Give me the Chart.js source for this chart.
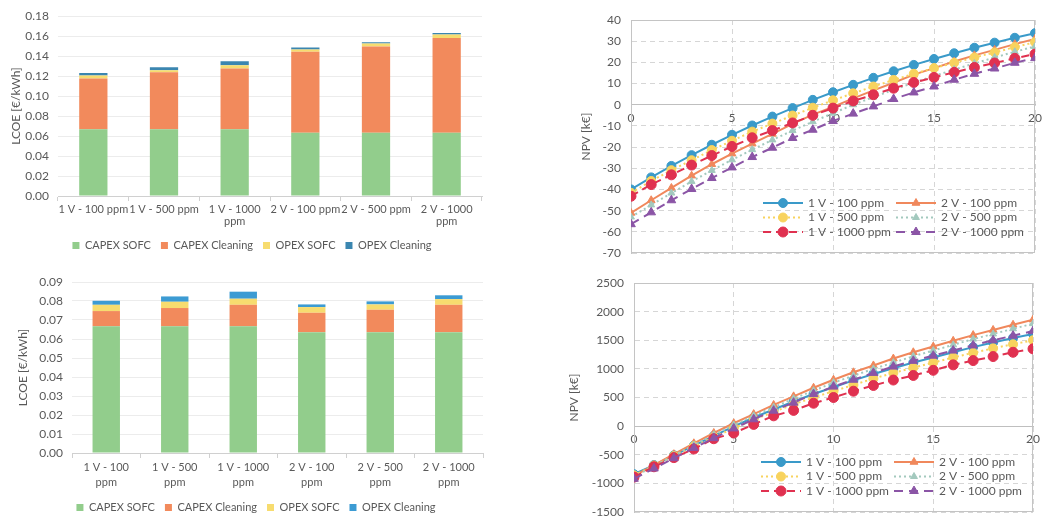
<!DOCTYPE html>
<html>
<head>
<meta charset="utf-8">
<script src="https://cdn.jsdelivr.net/npm/chart.js@4"></script>
<style>
  body { margin: 0; background: #fff; }
  #wrap { position: relative; width: 1042px; height: 518px; background: #fff; overflow: hidden; }
  .box { position: absolute; }
</style>
</head>
<body>
<div id="wrap">
  <div class="box" style="left:0;top:0;width:500px;height:261px"><canvas id="lcoe_top"></canvas></div>
  <div class="box" style="left:0;top:260px;width:500px;height:263px"><canvas id="lcoe_bot"></canvas></div>
  <div class="box" style="left:560px;top:0;width:482px;height:260px"><canvas id="npv_top"></canvas></div>
  <div class="box" style="left:560px;top:260px;width:482px;height:258px"><canvas id="npv_bot"></canvas></div>
</div>
<script>
// categories
const topCats = ['1 V - 100 ppm', '1 V - 500 ppm', ['1 V - 1000', 'ppm'], '2 V - 100 ppm', '2 V - 500 ppm', ['2 V - 1000', 'ppm']];
const botCats = [['1 V - 100', 'ppm'], ['1 V - 500', 'ppm'], ['1 V - 1000', 'ppm'], ['2 V - 100', 'ppm'], ['2 V - 500', 'ppm'], ['2 V - 1000', 'ppm']];
const costNames = ['CAPEX SOFC', 'CAPEX Cleaning', 'OPEX SOFC', 'OPEX Cleaning'];

// LCOE, upper chart
const topCapexSofc  = [0.0667, 0.0667, 0.0667, 0.0633, 0.0633, 0.0633];
const topCapexClean = [0.0510, 0.0573, 0.0610, 0.0810, 0.0864, 0.0950];
const topOpexSofc   = [0.0030, 0.0020, 0.0033, 0.0024, 0.0030, 0.0034];
const topOpexClean  = [0.0025, 0.0030, 0.0040, 0.0020, 0.0013, 0.0016];

// LCOE, lower chart
const botCapexSofc  = [0.0667, 0.0667, 0.0667, 0.0636, 0.0636, 0.0636];
const botCapexClean = [0.0080, 0.0096, 0.0113, 0.0102, 0.0118, 0.0144];
const botOpexSofc   = [0.0033, 0.0033, 0.0032, 0.0030, 0.0028, 0.0030];
const botOpexClean  = [0.0021, 0.0028, 0.0037, 0.0014, 0.0016, 0.0020];

// NPV, years
const years = [0, 1, 2, 3, 4, 5, 6, 7, 8, 9, 10, 11, 12, 13, 14, 15, 16, 17, 18, 19, 20];
const seriesNames = ['1 V - 100 ppm', '1 V - 500 ppm', '1 V - 1000 ppm', '2 V - 100 ppm', '2 V - 500 ppm', '2 V - 1000 ppm'];

// NPV upper chart [k€]
const npvTop1V100  = [-40, -34.3, -28.9, -23.8, -18.9, -14.2, -9.8, -5.6, -1.6, 2.3, 5.9, 9.4, 12.7, 15.8, 18.8, 21.6, 24.3, 26.9, 29.3, 31.6, 33.8];
const npvTop1V500  = [-41.6, -36, -30.9, -26.2, -21.4, -17, -12.7, -8.9, -5.1, -1.4, 2.1, 5.4, 8.6, 11.7, 14.6, 17.3, 19.8, 22.3, 24.7, 27.2, 29.5];
const npvTop1V1000 = [-43.2, -37.7, -33.1, -28.5, -24, -19.7, -15.6, -12.2, -8.6, -5, -1.6, 1.8, 4.7, 7.8, 10.5, 12.9, 15.3, 17.6, 19.7, 21.9, 23.9];
const npvTop2V100  = [-51.1, -45.1, -39.3, -33.5, -28.1, -23.1, -18.4, -13.8, -9, -4.7, -1, 3, 6.8, 10.4, 14.2, 17.3, 20.4, 23.3, 25.9, 28.6, 31.1];
const npvTop2V500  = [-53, -47.3, -41.7, -36.2, -31, -26, -21.2, -16.6, -12.2, -8, -4, 0, 3.6, 7.1, 10.4, 13.6, 16.6, 19.5, 22.3, 25, 27.5];
const npvTop2V1000 = [-56.4, -50.8, -45.1, -39.8, -34.6, -29.6, -24.7, -20.3, -15.7, -11.8, -7.7, -4.2, -0.8, 2.7, 5.8, 8.6, 11.8, 14.6, 17.1, 19.8, 22];

// NPV lower chart [k€]
const npvBot1V100  = [-840, -680, -510, -340, -170, -5, 150, 290, 430, 560, 680, 800, 910, 1010, 1110, 1200, 1290, 1380, 1460, 1540, 1610];
const npvBot1V500  = [-860, -690, -520, -350, -190, -40, 110, 250, 380, 500, 610, 720, 830, 930, 1020, 1110, 1200, 1280, 1360, 1430, 1500];
const npvBot1V1000 = [-890, -710, -550, -400, -220, -120, 30, 180, 275, 400, 500, 610, 710, 805, 885, 975, 1070, 1145, 1215, 1290, 1350];
const npvBot2V100  = [-870, -680, -490, -300, -120, 50, 210, 370, 520, 670, 810, 940, 1060, 1180, 1290, 1390, 1490, 1590, 1680, 1770, 1860];
const npvBot2V500  = [-880, -700, -510, -330, -150, 20, 180, 330, 480, 620, 760, 880, 1000, 1110, 1220, 1320, 1420, 1520, 1610, 1700, 1790];
const npvBot2V1000 = [-920, -740, -560, -380, -210, -40, 120, 270, 410, 560, 690, 810, 930, 1040, 1140, 1230, 1320, 1410, 1500, 1580, 1660];

const txt = '#595959';
Chart.defaults.font.family = 'Lato, "Open Sans", sans-serif';
Chart.defaults.color = txt;
Chart.defaults.animation = false;

// bar charts
function lcoeChart(id, cats, sets, blue, yMax, yStep, pad, yWidth, xHeight, lineH, titlePad) {
  const colors = ['#92cd8c', '#f28a5c', '#f7dc6f', blue];
  return new Chart(document.getElementById(id), {
    type: 'bar',
    data: {
      labels: cats,
      datasets: sets.map((d, i) => ({
        label: costNames[i],
        data: d,
        backgroundColor: colors[i],
        borderWidth: 0,
        categoryPercentage: 1,
        barPercentage: 0.4
      }))
    },
    options: {
      responsive: true,
      maintainAspectRatio: false,
      layout: { padding: pad },
      plugins: {
        tooltip: { enabled: false },
        legend: {
          position: 'bottom',
          labels: { boxWidth: 7, boxHeight: 7, padding: 10, font: { size: 11 } }
        }
      },
      scales: {
        x: {
          stacked: true,
          afterFit: (s) => { s.height = xHeight; s.paddingLeft = 0; s.paddingRight = 0; },
          grid: { display: true, drawOnChartArea: false, offset: true, tickLength: 5, color: '#d0d0d0' },
          border: { color: '#d0d0d0' },
          ticks: { maxRotation: 0, autoSkip: false, font: { size: 11, lineHeight: lineH }, padding: 2 }
        },
        y: {
          stacked: true,
          min: 0, max: yMax,
          afterFit: (s) => { s.width = yWidth; },
          title: { display: true, text: 'LCOE [€/kWh]', font: { size: 12 }, padding: { top: titlePad, bottom: 0 } },
          grid: { color: '#ececec', drawTicks: false, tickLength: 0 },
          border: { display: false },
          ticks: { stepSize: yStep, padding: 9, font: { size: 12 }, callback: (v) => v.toFixed(2) }
        }
      }
    }
  });
}

lcoeChart('lcoe_top', topCats, [topCapexSofc, topCapexClean, topOpexSofc, topOpexClean], '#3b86b0', 0.18, 0.02,
  { left: 22, top: 15, right: 18, bottom: 0 }, 36, 34, 1.1, -13);
lcoeChart('lcoe_bot', botCats, [botCapexSofc, botCapexClean, botOpexSofc, botOpexClean], '#3c9bd3', 0.09, 0.01,
  { left: 29, top: 22, right: 17, bottom: 0 }, 43, 39, 1.35, -13);

// npv line charts
const lineStyles = [
  { color: '#3a9ac9', dash: [], point: 'circle', r: 4.5 },
  { color: '#f8d35e', dash: [2, 3], point: 'circle', r: 4.5 },
  { color: '#e03150', dash: [8, 5], point: 'circle', r: 5 },
  { color: '#f0885c', dash: [], point: 'triangle', r: 4.5 },
  { color: '#a3c9be', dash: [2, 3], point: 'triangle', r: 4 },
  { color: '#8b55a6', dash: [9, 6], point: 'triangle', r: 5 }
];
const excelOrder = [5, 3, 1, 4, 2, 0];

const plotBox = {
  id: 'plotBox',
  beforeDatasetsDraw(chart) {
    const a = chart.chartArea, ctx = chart.ctx;
    ctx.save();
    ctx.strokeStyle = '#c4c4c4';
    ctx.lineWidth = 1;
    ctx.strokeRect(a.left + 0.5, a.top + 0.5, a.right - a.left - 1, a.bottom - a.top - 1);
    ctx.restore();
  },
  afterDraw(chart) {
    const a = chart.chartArea, ctx = chart.ctx;
    const cols = [a.right - 272, a.right - 139];
    const rows = [a.bottom - 50, a.bottom - 35.5, a.bottom - 21];
    chart.data.datasets.forEach((ds, i) => {
      const x = cols[Math.floor(i / 3)], y = rows[i % 3];
      ctx.save();
      ctx.strokeStyle = ds.borderColor;
      ctx.lineWidth = ds.borderWidth;
      ctx.setLineDash(ds.borderDash);
      ctx.beginPath();
      ctx.moveTo(x, y);
      ctx.lineTo(x + 40, y);
      ctx.stroke();
      ctx.setLineDash([]);
      ctx.lineWidth = 1;
      ctx.fillStyle = ds.pointBackgroundColor;
      ctx.strokeStyle = ds.pointBorderColor;
      Chart.helpers.drawPoint(ctx, { pointStyle: ds.pointStyle, radius: ds.pointRadius, borderWidth: 1, rotation: 0 }, x + 20, y);
      ctx.fillStyle = txt;
      ctx.font = '12px Lato, sans-serif';
      ctx.textBaseline = 'middle';
      ctx.fillText(ds.label, x + 45, y);
      ctx.restore();
    });
  }
};

function npvChart(id, sets, yMin, yMax, yStep, pad, yWidth) {
  return new Chart(document.getElementById(id), {
    type: 'line',
    data: {
      datasets: sets.map((d, i) => ({
        label: seriesNames[i],
        data: years.map((yr, k) => ({ x: yr, y: d[k] })),
        borderColor: lineStyles[i].color,
        backgroundColor: lineStyles[i].color,
        pointBackgroundColor: lineStyles[i].color,
        pointBorderColor: lineStyles[i].color,
        borderWidth: 2,
        borderDash: lineStyles[i].dash,
        pointStyle: lineStyles[i].point,
        pointRadius: lineStyles[i].r,
        pointBorderWidth: 1,
        tension: 0,
        order: excelOrder[i]
      }))
    },
    options: {
      responsive: true,
      maintainAspectRatio: false,
      layout: { padding: pad },
      plugins: { legend: { display: false }, tooltip: { enabled: false } },
      scales: {
        x: {
          type: 'linear',
          position: { y: 0 },
          min: 0, max: 20,
          afterFit: (s) => { s.height = 0; s.paddingLeft = 0; s.paddingRight = 0; },
          grid: { color: '#d6d6d6', drawTicks: false },
          border: { color: '#bfbfbf', dash: [5, 4] },
          ticks: { stepSize: 5, padding: 6, font: { size: 12 } }
        },
        y: {
          min: yMin, max: yMax,
          afterFit: (s) => { s.width = yWidth; s.paddingTop = 0; s.paddingBottom = 0; },
          title: { display: true, text: 'NPV [k€]', font: { size: 12 }, padding: { top: 0, bottom: 4 } },
          grid: { color: '#d6d6d6', drawTicks: false },
          border: { color: '#c4c4c4', dash: [5, 4] },
          ticks: { stepSize: yStep, padding: 10, font: { size: 12 }, callback: (v) => String(v) }
        }
      }
    },
    plugins: [plotBox]
  });
}

npvChart('npv_top', [npvTop1V100, npvTop1V500, npvTop1V1000, npvTop2V100, npvTop2V500, npvTop2V1000],
  -70, 40, 10, { left: 19, top: 20, right: 7, bottom: 7 }, 52);
npvChart('npv_bot', [npvBot1V100, npvBot1V500, npvBot1V1000, npvBot2V100, npvBot2V500, npvBot2V1000],
  -1500, 2500, 500, { left: 7, top: 23, right: 9, bottom: 6 }, 67);
</script>
</body>
</html>
